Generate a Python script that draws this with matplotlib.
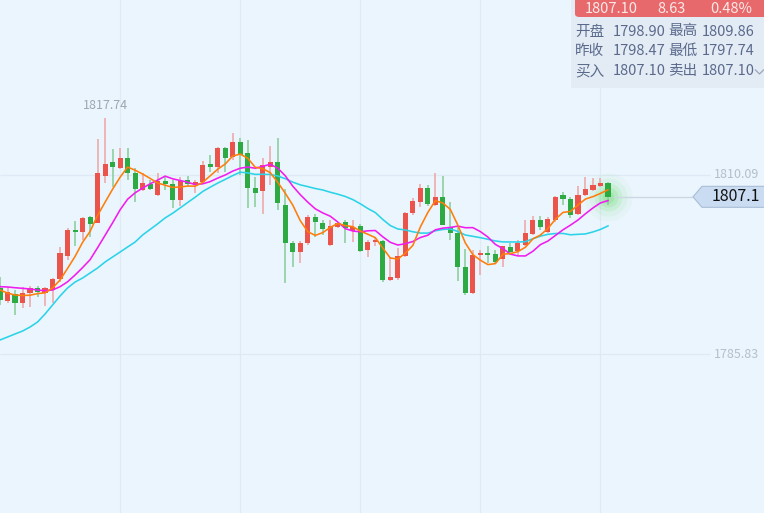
import numpy as np
import pandas as pd
import matplotlib
matplotlib.use("Agg")
import matplotlib.pyplot as plt
from matplotlib.patches import Polygon, Rectangle, FancyBboxPatch
from matplotlib.lines import Line2D

plt.rcParams['font.family'] = ['Noto Sans CJK SC', 'DejaVu Sans']

# ---------------- data ----------------
opens = [1794.76, 1793.00, 1793.95, 1792.73, 1794.08, 1794.76, 1794.08, 1794.49, 1795.98, 1799.09,
         1802.54, 1802.34, 1804.37, 1803.56, 1809.91, 1811.81, 1811.00, 1812.35, 1810.32, 1808.02,
         1808.83, 1807.34, 1809.24, 1808.83, 1806.67, 1809.37, 1808.70, 1809.10, 1811.54, 1811.13,
         1813.70, 1812.49, 1814.51, 1813.03, 1808.29, 1807.89, 1811.13, 1811.81, 1805.99, 1800.85,
         1799.63, 1800.85, 1804.37, 1803.56, 1800.58, 1803.01, 1803.69, 1802.47, 1803.15, 1799.90,
         1800.98, 1801.12, 1795.84, 1796.11, 1799.09, 1804.91, 1806.40, 1808.29, 1805.99, 1807.07,
         1803.01, 1802.20, 1797.60, 1794.08, 1799.23, 1799.50, 1799.36, 1798.68, 1800.31, 1799.77,
         1800.58, 1802.07, 1803.96, 1802.34, 1803.96, 1807.34, 1806.80, 1804.77, 1807.34, 1808.02,
         1808.56, 1808.97]
highs = [1796.25, 1794.90, 1794.49, 1794.90, 1795.03, 1795.03, 1794.90, 1796.11, 1800.31, 1802.88,
         1803.83, 1804.37, 1804.50, 1814.92, 1817.74, 1813.57, 1813.70, 1813.70, 1811.00, 1810.32,
         1809.37, 1810.32, 1809.78, 1809.37, 1809.78, 1809.91, 1809.37, 1811.94, 1812.76, 1813.84,
         1813.84, 1815.73, 1815.06, 1814.79, 1809.78, 1812.35, 1813.97, 1815.06, 1808.16, 1801.12,
         1801.12, 1804.64, 1804.77, 1803.96, 1803.96, 1803.69, 1803.96, 1803.96, 1803.42, 1801.26,
         1801.66, 1801.26, 1798.96, 1800.17, 1805.04, 1806.94, 1808.83, 1808.70, 1810.32, 1809.91,
         1806.40, 1803.01, 1800.04, 1799.90, 1799.90, 1800.44, 1799.90, 1800.44, 1800.85, 1801.26,
         1803.96, 1804.50, 1804.50, 1804.37, 1807.21, 1807.75, 1807.07, 1808.56, 1809.78, 1809.64,
         1809.64, 1809.10]
lows = [1792.46, 1792.73, 1791.11, 1792.05, 1792.19, 1793.54, 1792.33, 1792.73, 1795.57, 1798.55,
        1800.44, 1801.26, 1801.66, 1803.49, 1808.97, 1808.43, 1810.86, 1809.37, 1806.40, 1807.89,
        1808.02, 1807.21, 1808.02, 1805.59, 1805.86, 1808.43, 1807.61, 1808.83, 1810.46, 1810.32,
        1810.46, 1812.08, 1810.05, 1805.59, 1805.72, 1804.77, 1808.70, 1805.31, 1795.44, 1797.60,
        1798.14, 1800.58, 1801.66, 1801.93, 1800.44, 1802.88, 1800.85, 1800.98, 1799.63, 1798.96,
        1800.44, 1795.57, 1795.71, 1795.84, 1798.96, 1804.64, 1805.72, 1805.86, 1805.86, 1803.28,
        1801.26, 1795.71, 1793.81, 1793.95, 1796.52, 1798.14, 1798.14, 1797.60, 1799.23, 1799.23,
        1800.44, 1801.93, 1802.61, 1802.20, 1803.69, 1805.99, 1804.23, 1804.64, 1807.21, 1807.89,
        1808.43, 1805.99]
closes = [1793.14, 1794.22, 1792.73, 1794.08, 1794.76, 1794.22, 1794.76, 1795.98, 1799.50, 1802.61,
          1802.34, 1804.23, 1803.42, 1810.32, 1811.54, 1811.13, 1812.35, 1810.32, 1808.16, 1808.97,
          1808.16, 1809.24, 1808.83, 1806.67, 1809.24, 1808.83, 1809.10, 1811.40, 1811.13, 1813.70,
          1812.35, 1814.51, 1812.76, 1808.29, 1807.61, 1811.40, 1811.81, 1806.26, 1800.85, 1799.63,
          1800.85, 1804.37, 1803.69, 1802.74, 1803.15, 1803.56, 1802.88, 1803.01, 1799.77, 1800.98,
          1801.26, 1795.84, 1796.25, 1799.09, 1804.91, 1806.53, 1808.29, 1806.13, 1807.07, 1803.28,
          1802.20, 1797.60, 1794.08, 1799.23, 1799.50, 1799.23, 1798.28, 1800.44, 1799.63, 1800.85,
          1802.20, 1803.96, 1803.01, 1804.10, 1807.07, 1806.80, 1804.64, 1807.34, 1808.16, 1808.70,
          1808.97, 1807.10]

# moving-average values at the left edge (window starts before the visible range)
ma5_lead = [1794.49, 1794.08, 1793.81, 1793.75]
ma10_lead = [1794.94, 1794.90, 1794.80, 1794.72, 1794.63, 1794.49, 1794.40, 1794.49, 1794.94]
ma20_lead = [1787.73, 1788.13, 1788.54, 1788.94, 1789.48, 1790.16, 1791.24, 1792.46, 1793.68,
             1794.76, 1795.57, 1796.11, 1796.79, 1797.47, 1798.28, 1798.96, 1799.63, 1800.31, 1800.98]

y_tick_values = [1810.09, 1785.83]
y_tick_labels = ["1810.09", "1785.83"]
max_label = "1817.74"
last_price_label = "1807.1"

quote_top = ["1807.10", "8.63", "0.48%"]
quote_rows = [["开盘", "1798.90", "最高", "1809.86"],
              ["昨收", "1798.47", "最低", "1797.74"],
              ["买入", "1807.10", "卖出", "1807.10"]]

# ---------------- figure ----------------
W, H = 764, 513
fig = plt.figure(figsize=(W / 100, H / 100), dpi=100)
ax = fig.add_axes([0, 0, 1, 1])
bg = "#ebf5fd"
fig.patch.set_facecolor(bg)
ax.set_facecolor(bg)
for s in ax.spines.values():
    s.set_visible(False)
ax.set_xticks([])
ax.set_yticks([])

n = len(closes)
x = np.arange(n)
spacing_px = 7.506
xmax = W / spacing_px
ax.set_xlim(0, xmax)
ax.set_ylim(1764.32, 1833.73)

def fpx(px, py):
    return px / W, 1 - py / H

# grid
for gx in [16, 32, 48, 64, 80]:
    ax.axvline(gx, color="#dfeaf5", lw=0.9, zorder=0)
for v in y_tick_values:
    ax.hlines(v, 0, 710 / spacing_px, color="#dde9f4", lw=0.9, zorder=0)

# candles
o = np.array(opens); c = np.array(closes); h = np.array(highs); l = np.array(lows)
up = c >= o
red_body, red_wick = "#ea544b", "#eea3a3"
grn_body, grn_wick = "#2eaa42", "#86cc98"
wick_cols = np.where(up, red_wick, grn_wick)
body_cols = np.where(up, red_body, grn_body)

# glow around last candle
for r, a in [(24, 0.04), (19, 0.07), (14, 0.11), (10, 0.15), (6, 0.2)]:
    ax.scatter([x[-1]], [c[-1]], s=(1.44 * r) ** 2, color="#4fd84f", alpha=a,
               linewidths=0, zorder=1)

ax.vlines(x, l, h, colors=wick_cols, lw=1.1, zorder=2)
heights = np.maximum(np.abs(c - o), 0.3)
bottoms = np.minimum(o, c)
ax.bar(x, heights, bottom=bottoms, width=0.68, color=body_cols, linewidth=0, zorder=3)

# moving averages
cs = pd.Series(closes)
ma5 = cs.rolling(5).mean().to_numpy(); ma5[:4] = ma5_lead
ma10 = cs.rolling(10).mean().to_numpy(); ma10[:9] = ma10_lead
ma20 = cs.rolling(20).mean().to_numpy(); ma20[:19] = ma20_lead
ax.plot(x, ma20, color="#2bd3e8", lw=1.15, zorder=4)
ax.plot(x, ma10, color="#f01cf0", lw=1.15, zorder=4)
ax.plot(x, ma5, color="#ff7d0a", lw=1.15, zorder=5)

# y labels
for v, lab in zip(y_tick_values, y_tick_labels):
    ax.text(759 / spacing_px, v, lab, ha="right", va="center", fontsize=9,
            color="#b3bfcc", zorder=6)

# max label
imax = int(np.argmax(h))
ax.text(x[imax], h[imax] + 0.9, max_label, ha="center", va="bottom", fontsize=9,
        color="#9ea7b1", zorder=6)

# last price line & tag
ax.hlines(c[-1], 613 / spacing_px, 693 / spacing_px, color="#cbd7e3", lw=1.0, zorder=1)
yp = 1 / 7.391
tag = Polygon([(693 / spacing_px, c[-1]),
               (702 / spacing_px, c[-1] + 10.5 * yp),
               (W / spacing_px + 1, c[-1] + 10.5 * yp),
               (W / spacing_px + 1, c[-1] - 10.5 * yp),
               (702 / spacing_px, c[-1] - 10.5 * yp)],
              closed=True, facecolor="#cadcf1", edgecolor="#a9bed6", lw=0.8, zorder=6)
ax.add_patch(tag)
ax.text(760 / spacing_px, c[-1], last_price_label, ha="right", va="center",
        fontsize=11.5, color="#111111", zorder=7)

# quote panel
fig.patches.append(Rectangle(fpx(571, 88), (W - 571) / W, 88 / H,
                             transform=fig.transFigure, facecolor="#e3ecf5",
                             edgecolor="none", zorder=8))
x0, y0 = fpx(575, 17)
fig.patches.append(FancyBboxPatch((x0, y0), (W + 10 - 575) / W, 30 / H,
                                  boxstyle="round,pad=0,rounding_size=0.006",
                                  transform=fig.transFigure, facecolor="#e8696b",
                                  edgecolor="none", zorder=9))
for txt, px_ in zip(quote_top, [585, 657, 710]):
    fx, fy = fpx(px_, 9)
    fig.text(fx, fy, txt, ha="left", va="center", fontsize=10.5, color="#fbe9e9", zorder=10)

col_x = [575, 613, 668, 702]
row_y = [31.5, 51, 71]
for row, ry in zip(quote_rows, row_y):
    for txt, cx in zip(row, col_x):
        fx, fy = fpx(cx, ry)
        fig.text(fx, fy, txt, ha="left", va="center", fontsize=10.5, color="#5b6a8c", zorder=10)

# chevron
cx0, cy0 = 755.5, 70
fig.lines.append(Line2D([cx0 / W, (cx0 + 4) / W, (cx0 + 8) / W],
                        [1 - cy0 / H, 1 - (cy0 + 4) / H, 1 - cy0 / H],
                        transform=fig.transFigure, color="#9aa6b8", lw=0.9, zorder=10))

fig.savefig("out.png", dpi=100, facecolor=bg)
